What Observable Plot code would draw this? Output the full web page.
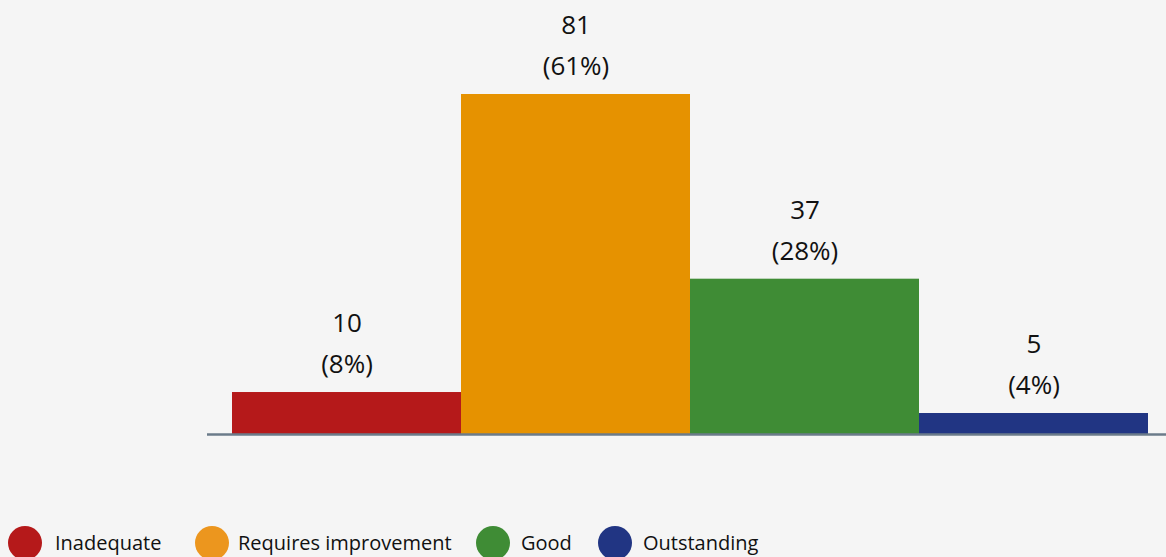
<!DOCTYPE html>
<html>
<head>
<meta charset="utf-8">
<script src="https://cdn.jsdelivr.net/npm/d3@7"></script>
<script src="https://cdn.jsdelivr.net/npm/@observablehq/plot@0.6"></script>
<style>
  html, body { margin: 0; padding: 0; background: #f5f5f5; overflow: hidden; }
  body { width: 1166px; height: 557px; font-family: "Open Sans", sans-serif; position: relative; }
  #legend { position: absolute; left: 0; top: 526px; width: 1166px; height: 34px; font-size: 20px; color: #111; }
  .sw { position: absolute; top: 0; width: 34px; height: 34px; border-radius: 50%; }
  .lab { position: absolute; top: 0; line-height: 34px; white-space: nowrap; }
</style>
</head>
<body>
<div id="chart"></div>
<div id="legend"></div>
<script>
const categories = ["Inadequate", "Requires improvement", "Good", "Outstanding"];
const counts = [10, 81, 37, 5];
const percents = ["8%", "61%", "28%", "4%"];
const colors = ["#b5191a", "#e69200", "#3f8c35", "#213583"];
const legendColors = ["#b5191a", "#ec961e", "#3f8c35", "#213583"];

const data = categories.map((c, i) => ({category: c, count: counts[i], pct: "(" + percents[i] + ")"}));

const chart = Plot.plot({
  width: 1166,
  height: 500,
  marginLeft: 231,
  marginRight: 17,
  marginTop: 94,
  marginBottom: 66,
  style: {background: "#f5f5f5", fontFamily: "'Open Sans', sans-serif"},
  x: {domain: categories, padding: 0, axis: null},
  y: {domain: [0, 81], axis: null},
  color: {domain: categories, range: colors},
  marks: [
    Plot.barY(data, {x: "category", y: "count", fill: "category"}),
    Plot.ruleY([0], {stroke: "#6b7b8a", strokeWidth: 2.5, insetLeft: -24, insetRight: -17}),
    Plot.text(data, {x: "category", y: "count", text: "pct", dy: -28, fontSize: 26, fill: "#111", lineAnchor: "middle"}),
    Plot.text(data, {x: "category", y: "count", text: d => String(d.count), dy: -69, fontSize: 26, fill: "#111", lineAnchor: "middle"})
  ]
});
document.getElementById("chart").appendChild(chart);

// legend layout (positions in px from left)
const swatchX = [8, 195, 476, 598];
const labelX = [55, 238, 521, 643];
const legend = document.getElementById("legend");
categories.forEach((c, i) => {
  const sw = document.createElement("div");
  sw.className = "sw";
  sw.style.left = swatchX[i] + "px";
  sw.style.background = legendColors[i];
  const lab = document.createElement("span");
  lab.className = "lab";
  lab.style.left = labelX[i] + "px";
  lab.textContent = c;
  legend.appendChild(sw);
  legend.appendChild(lab);
});
</script>
</body>
</html>
